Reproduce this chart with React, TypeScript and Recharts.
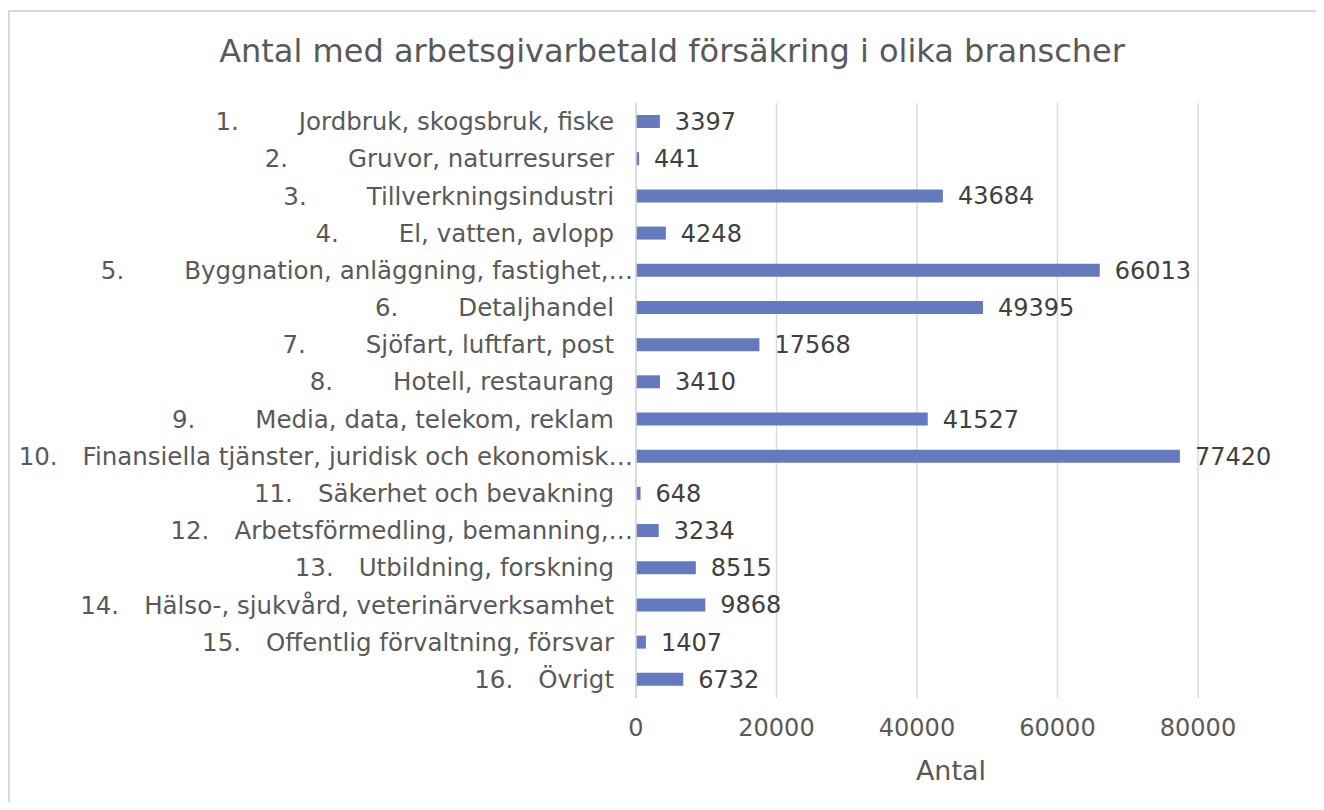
import React from 'react';
import { BarChart, Bar, XAxis, YAxis, CartesianGrid, LabelList } from 'recharts';

if (typeof document !== 'undefined') {
  document.documentElement.style.overflow = 'hidden';
  document.body.style.overflow = 'hidden';
}

const categories = [
  '1. Jordbruk, skogsbruk, fiske',
  '2. Gruvor, naturresurser',
  '3. Tillverkningsindustri',
  '4. El, vatten, avlopp',
  '5. Byggnation, anläggning, fastighet,…',
  '6. Detaljhandel',
  '7. Sjöfart, luftfart, post',
  '8. Hotell, restaurang',
  '9. Media, data, telekom, reklam',
  '10. Finansiella tjänster, juridisk och ekonomisk…',
  '11. Säkerhet och bevakning',
  '12. Arbetsförmedling, bemanning,…',
  '13. Utbildning, forskning',
  '14. Hälso-, sjukvård, veterinärverksamhet',
  '15. Offentlig förvaltning, försvar',
  '16. Övrigt',
];

const values = [3397, 441, 43684, 4248, 66013, 49395, 17568, 3410, 41527, 77420, 648, 3234, 8515, 9868, 1407, 6732];

const xTicks = [0, 20000, 40000, 60000, 80000];

const title = 'Antal med arbetsgivarbetald försäkring i olika branscher';
const xTitle = 'Antal';

const data = categories.map((name, i) => ({ name, value: values[i] }));

const FONT = '"DejaVu Sans", Verdana, sans-serif';

const YTick = (props: any) => {
  const { x, y, payload } = props;
  const full = String(payload.value);
  const idx = full.indexOf(' ');
  const num = full.slice(0, idx);
  const label = full.slice(idx + 1);
  const truncated = label.endsWith('…');
  const gap = num.length > 2 ? 25 : 60;
  return (
    <text
      x={x - (truncated ? 3 : 22)}
      y={y}
      dy="0.35em"
      textAnchor="end"
      fill="#595959"
      fontSize={24.5}
      fontFamily={FONT}
    >
      <tspan>{num}</tspan>
      <tspan dx={gap}>{label}</tspan>
    </text>
  );
};

const XTick = (props: any) => {
  const { x, y, payload } = props;
  return (
    <text x={x} y={y + 38} textAnchor="middle" fill="#595959" fontSize={24} fontFamily={FONT}>
      {payload.value}
    </text>
  );
};

export default function App() {
  return (
    <div style={{ position: 'relative', width: 1316, height: 794, overflow: 'hidden' }}>
      <div
        style={{
          position: 'absolute',
          left: 0,
          top: 2,
          width: 1316,
          height: 792,
          borderLeft: '2px solid #d9d9d9',
          borderTop: '2px solid #d9d9d9',
          boxSizing: 'border-box',
          background: '#fff',
        }}
      />
      <div
        style={{
          position: 'absolute',
          left: 64,
          top: 24,
          width: 1200,
          textAlign: 'center',
          fontFamily: FONT,
          fontSize: 32,
          lineHeight: 'normal',
          color: '#595959',
          whiteSpace: 'nowrap',
        }}
      >
        {title}
      </div>
      <div
        style={{
          position: 'absolute',
          left: 843,
          top: 747,
          width: 200,
          textAlign: 'center',
          fontFamily: FONT,
          fontSize: 27,
          lineHeight: 'normal',
          color: '#595959',
        }}
      >
        {xTitle}
      </div>
      <div style={{ position: 'absolute', left: 0, top: 0 }}>
        <BarChart
          width={1316}
          height={794}
          data={data}
          layout="vertical"
          margin={{ top: 95, right: 126, bottom: 44, left: 0 }}
        >
          <CartesianGrid horizontal={false} stroke="#d9d9d9" strokeWidth={1.4} />
          <XAxis
            type="number"
            domain={[0, 80000]}
            ticks={xTicks}
            axisLine={false}
            tickLine={false}
            tickSize={0}
            tickMargin={0}
            height={60}
            tick={<XTick />}
            interval={0}
          />
          <YAxis
            type="category"
            dataKey="name"
            width={628}
            axisLine={{ stroke: '#d9d9d9', strokeWidth: 1.6 }}
            tickLine={false}
            tickSize={0}
            tickMargin={0}
            interval={0}
            tick={<YTick />}
          />
          <Bar dataKey="value" fill="#6479be" barSize={13} isAnimationActive={false}>
            <LabelList
              dataKey="value"
              position="right"
              offset={15}
              fill="#404040"
              fontSize={24}
              fontFamily={FONT}
            />
          </Bar>
        </BarChart>
      </div>
    </div>
  );
}
